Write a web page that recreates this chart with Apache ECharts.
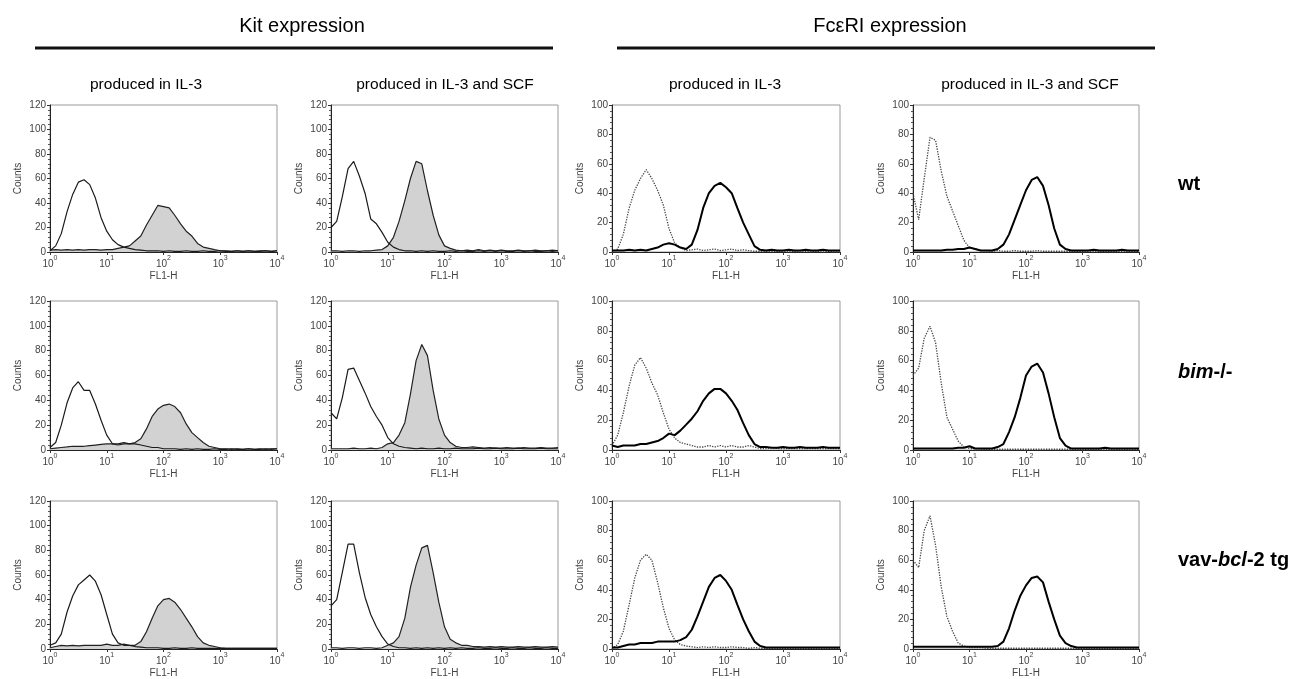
<!DOCTYPE html>
<html>
<head>
<meta charset="utf-8">
<script src="https://cdn.jsdelivr.net/npm/echarts@6/dist/echarts.min.js"></script>
<style>
  html, body { margin: 0; padding: 0; background: #fff; }
  #chart { width: 1296px; height: 679px; }
</style>
</head>
<body>
<div id="chart"></div>
<script>
// ---------------- DATA ----------------
// FL1-H channel positions (fluorescence intensity, log scale)
const channels = [1,1.26,1.58,2,2.51,3.16,3.98,5.01,6.31,7.94,
  10,12.6,15.8,20,25.1,31.6,39.8,50.1,63.1,79.4,
  100,126,158,200,251,316,398,501,631,794,
  1000,1259,1585,1995,2512,3162,3981,5012,6310,7943,
  10000];

const groupTitles = ['Kit expression', 'FcεRI expression'];
const columnTitles = ['produced in IL-3', 'produced in IL-3 and SCF', 'produced in IL-3', 'produced in IL-3 and SCF'];
const rowLabels = ['{b|wt}', '{i|bim}{b|-/-}', '{b|vav-}{i|bcl}{b|-2 tg}'];
const yMaxByColumn = [120, 120, 100, 100];
const xAxisName = 'FL1-H';
const yAxisName = 'Counts';

// Row 1: wt
const kit_il3_wt_neg = [1,5,15,33,47,57,59,55,44,28, 17,10,6,4,3,2,1.5,1,1,1, 0.5,1,0.5,0.5,1,0.5,0.5,1,0.5,0.5, 1,0.5,0.5,1,0.5,1,0.5,0.5,1,0.5, 1];
const kit_il3_wt_pos = [1.5,2,1.5,2,1.5,2,1.5,2,2,1.5, 2,2,3,4,5,9,13,22,30,38, 37,36,30,23,17,13,7,4,3,2, 1,1,0.5,1,0.5,1,0.5,1,1,0.5, 1];
const kit_scf_wt_neg = [20,25,45,68,74,62,48,27,23,16, 8,4,2,1,1,0.5,1,0.5,1,0.5, 0.5,1,0.5,1,0.5,0.5,1,0.5,1,0.5, 1,0.5,0.5,1,0.5,1,0.5,0.5,1,0.5, 1];
const kit_scf_wt_pos = [1,1,0.5,1,1,0.5,1,1,1.5,2, 5,12,25,42,60,74,72,50,30,14, 5,3,1.5,1,1.5,1,2,1,1.5,1, 1.5,1,1,1.5,1,1,1.5,1,1,1.5, 1];
const fce_il3_wt_neg = [0,2,12,30,42,50,56,50,42,32, 16,6,3,1,1.5,2,1,1.5,2,1, 1.5,2,1,1.5,1,0.5,0.5,0.5,0.5,0.5, 0.5,0,0.5,0,0.5,0,0.5,0,0.5,0, 0];
const fce_il3_wt_pos = [1,1,1,1.5,1,1.5,1,2,3,5, 6,5,3,2,5,15,30,40,45,47, 44,40,30,20,12,4,1.5,1,1.5,1, 1,1.5,1,1,1.5,1,1,1.5,1,1, 1];
const fce_scf_wt_neg = [40,22,50,78,76,55,38,28,18,8, 3,2,1,1,0.5,1,0.5,0.5,1,0.5, 0.5,0.5,1,0.5,0.5,0.5,0.5,0.5,0.5,0.5, 0.5,0.5,0.5,0.5,0.5,0.5,0.5,0.5,0.5,0.5, 0.5];
const fce_scf_wt_pos = [1,1,1,1,1,1,1.5,1.5,2,2, 3,2,1,1,1,2,5,12,22,32, 42,49,51,45,32,16,5,2,1,1, 1,1,1.5,1,1,1,1,1.5,1,1, 1];

// Row 2: bim-/-
const kit_il3_bim_neg = [2,6,20,38,50,55,48,48,37,24, 12,5,5,6,5,5,4,3,2,2, 1,1,1,0.5,1,0.5,1,0.5,0.5,1, 0.5,0.5,1,0.5,0.5,1,0.5,0.5,1,0.5, 1];
const kit_il3_bim_pos = [1,1.5,2,2.5,3,3,3,3.5,4,4.5, 5,5,4,5,5,6,9,17,27,33, 36,37,35,30,21,14,10,6,3,2, 1,1,0.5,1,0.5,1,0.5,1,0.5,1, 1];
const kit_scf_bim_neg = [30,25,42,65,66,56,46,35,27,20, 10,5,3,2,1.5,1,1.5,1,1,1.5, 1,1,1.5,1,1,1,1.5,1,1,1.5, 1,1,1,1.5,1,1,1,1.5,1,1, 1];
const kit_scf_bim_pos = [1,1,1,1,1.5,1,1,1.5,1,2, 5,6,12,22,45,72,85,76,48,25, 12,6,3,2,2,2.5,2,1.5,2,1.5, 1.5,2,1.5,1.5,2,1.5,1.5,2,1.5,1.5, 2];
const fce_il3_bim_neg = [3,10,25,43,57,62,55,45,37,25, 14,8,5,4,3,2,2,3,2,3, 2,3,2,2,3,2,1,1,1.5,1, 1,1,1,1,1,1,1,1,1,1, 1];
const fce_il3_bim_pos = [3,2,3,3,3,4,4,5,6,8, 11,10,13,17,21,26,33,38,41,41, 38,33,27,18,10,4,2,2,1.5,1.5, 2,1.5,1.5,2,1.5,1.5,1.5,2,1.5,1.5, 1.5];
const fce_scf_bim_neg = [50,55,75,83,72,45,22,14,6,2, 1,1,0.5,0.5,0.5,0.5,0.5,0.5,0.5,0.5, 0.5,0.5,0.5,0.5,0.5,0.5,0.5,0.5,0.5,0.5, 0.5,0.5,0.5,0.5,0.5,0.5,0.5,0.5,0.5,0.5, 0.5];
const fce_scf_bim_pos = [1,1,1,1,1,1,1,1,1.5,1.5, 2.5,1,1,1,1,2,4,12,22,35, 50,56,58,52,38,22,8,3,1,1, 1,1,1,1,1.5,1,1,1,1,1, 1];

// Row 3: vav-bcl-2 tg
const kit_il3_bcl_neg = [3,5,12,30,43,52,56,60,55,44, 28,12,5,3,3,2,1.5,1,1,1, 0.5,0.5,1,0.5,0.5,1,0.5,0.5,0.5,0.5, 0.5,0.5,0.5,0.5,0.5,0.5,0.5,0.5,0.5,0.5, 0.5];
const kit_il3_bcl_pos = [1,2,3,2.5,3,2.5,3,3,3,3, 4,3,3,4,3,3,6,14,25,35, 40,41,38,32,25,18,10,5,3,2, 1,0.5,0.5,0.5,0.5,0.5,0.5,0.5,0.5,0.5, 0.5];
const kit_scf_bcl_neg = [35,40,62,85,85,62,42,28,18,10, 4,2,1,1,0.5,1,0.5,1,0.5,1, 0.5,1,0.5,1,0.5,0.5,1,0.5,0.5,1, 0.5,0.5,1,0.5,0.5,1,0.5,0.5,1,0.5, 0.5];
const kit_scf_bcl_pos = [1,1,0.5,1,1,0.5,1,1,0.5,1, 3,5,10,25,50,68,82,84,62,38, 18,8,5,3,3,2,2,1.5,2,1.5, 2,1.5,1.5,2,1.5,1.5,2,1.5,1.5,2, 1.5];
const fce_il3_bcl_neg = [0,3,12,30,48,60,64,60,45,28, 14,6,3,2,1.5,1,1.5,1,1.5,1, 1,1.5,1,1,0.5,1,0.5,0.5,0.5,0.5, 0.5,0.5,0.5,0.5,0.5,0.5,0.5,0.5,0.5,0.5, 0.5];
const fce_il3_bcl_pos = [1,1,2,3,3,4,4,4,5,5, 5,5,6,8,13,22,32,42,48,50, 46,40,30,20,12,5,2,1,1,1, 1,1,1,1,1,1,1,1,1,1, 1];
const fce_scf_bcl_neg = [60,55,80,90,70,42,22,12,4,2, 1,1,1,0.5,0.5,0.5,0.5,0.5,0.5,0.5, 0.5,0.5,0.5,0.5,0.5,0.5,0.5,0.5,0.5,0.5, 0.5,0.5,0.5,0.5,0.5,0.5,0.5,0.5,0.5,0.5, 0.5];
const fce_scf_bcl_pos = [1.5,1.5,1.5,1.5,1.5,1.5,1.5,1.5,1.5,1.5, 1.5,1.5,1.5,1.5,1.5,2,5,14,26,36, 43,48,49,45,32,20,9,4,2,1, 1,1,1,1,1,1,1,1,1,1, 1];

const panels = [
  [[kit_il3_wt_neg, kit_il3_wt_pos], [kit_scf_wt_neg, kit_scf_wt_pos], [fce_il3_wt_neg, fce_il3_wt_pos], [fce_scf_wt_neg, fce_scf_wt_pos]],
  [[kit_il3_bim_neg, kit_il3_bim_pos], [kit_scf_bim_neg, kit_scf_bim_pos], [fce_il3_bim_neg, fce_il3_bim_pos], [fce_scf_bim_neg, fce_scf_bim_pos]],
  [[kit_il3_bcl_neg, kit_il3_bcl_pos], [kit_scf_bcl_neg, kit_scf_bcl_pos], [fce_il3_bcl_neg, fce_il3_bcl_pos], [fce_scf_bcl_neg, fce_scf_bcl_pos]]
];

// ---------------- LAYOUT ----------------
const colLeft = [50, 331, 612, 913];
const colWidth = [227, 227, 228, 226];
const rowTop = [105, 301, 501];
const rowHeight = [147, 149, 148];
const FONT = '"Liberation Sans", Arial, Helvetica, sans-serif';

const grids = [], xAxes = [], yAxes = [], series = [];
const pairs = arr => channels.map((c, i) => [c, arr[i]]);

let k = 0;
for (let r = 0; r < 3; r++) {
  for (let c = 0; c < 4; c++) {
    grids.push({
      left: colLeft[c], top: rowTop[r], width: colWidth[c], height: rowHeight[r],
      show: true, borderColor: '#9a9a9a', borderWidth: 1, backgroundColor: '#fff'
    });
    xAxes.push({
      type: 'log', logBase: 10, min: 1, max: 10000, splitNumber: 4, gridIndex: k,
      name: xAxisName, nameLocation: 'middle', nameGap: 19,
      nameTextStyle: { fontSize: 10, color: '#444', fontFamily: FONT },
      axisLine: { show: true, onZero: false, lineStyle: { color: '#222', width: 1 } },
      axisTick: { show: true, length: 3, lineStyle: { color: '#333' } },
      splitLine: { show: false },
      axisLabel: {
        margin: 3, showMinLabel: true, showMaxLabel: true,
        formatter: v => '{b|10}{s|' + Math.round(Math.log10(v)) + '}',
        rich: {
          b: { fontSize: 10, color: '#444', fontFamily: FONT, verticalAlign: 'bottom', lineHeight: 14 },
          s: { fontSize: 7, color: '#444', fontFamily: FONT, verticalAlign: 'top', lineHeight: 14 }
        }
      }
    });
    yAxes.push({
      type: 'value', min: 0, max: yMaxByColumn[c], interval: 20, gridIndex: k,
      name: yAxisName, nameLocation: 'middle', nameGap: 27, nameRotate: 90,
      nameTextStyle: { fontSize: 10, color: '#444', fontFamily: FONT },
      axisLine: { show: true, lineStyle: { color: '#222', width: 1 } },
      axisTick: { show: true, length: 3, lineStyle: { color: '#333' } },
      minorTick: { show: true, splitNumber: 5, length: 2, lineStyle: { color: '#555' } },
      splitLine: { show: false },
      axisLabel: { fontSize: 10, color: '#444', fontFamily: FONT, margin: 4 }
    });
    const [neg, pos] = panels[r][c];
    if (c < 2) {
      series.push({
        type: 'line', xAxisIndex: k, yAxisIndex: k, data: pairs(pos), showSymbol: false,
        lineStyle: { color: '#222', width: 1.2 }, areaStyle: { color: '#d2d2d2', opacity: 1 },
        z: 2, silent: true
      });
      series.push({
        type: 'line', xAxisIndex: k, yAxisIndex: k, data: pairs(neg), showSymbol: false,
        lineStyle: { color: '#1a1a1a', width: 1.2 }, z: 3, silent: true
      });
    } else {
      series.push({
        type: 'line', xAxisIndex: k, yAxisIndex: k, data: pairs(neg), showSymbol: false,
        lineStyle: { color: '#444', width: 1.3, type: 'dotted' }, z: 2, silent: true
      });
      series.push({
        type: 'line', xAxisIndex: k, yAxisIndex: k, data: pairs(pos), showSymbol: false,
        lineStyle: { color: '#000', width: 2 }, z: 3, silent: true
      });
    }
    k++;
  }
}

const titles = [];
const groupCenters = [297, 885];
groupTitles.forEach((t, i) => titles.push({
  text: t, left: groupCenters[i], top: 11, textAlign: 'center',
  textStyle: { fontSize: 20, fontWeight: 'normal', color: '#000', fontFamily: FONT }
}));
const colCenters = [141, 440, 720, 1025];
columnTitles.forEach((t, i) => titles.push({
  text: t, left: colCenters[i], top: 72, textAlign: 'center',
  textStyle: { fontSize: 15.5, fontWeight: 'normal', color: '#000', fontFamily: FONT }
}));
const rowLabelTops = [169, 357, 545];
rowLabels.forEach((t, i) => titles.push({
  text: t, left: 1173, top: rowLabelTops[i],
  textStyle: {
    rich: {
      b: { fontSize: 20, fontWeight: 'bold', color: '#000', fontFamily: FONT },
      i: { fontSize: 20, fontWeight: 'bold', fontStyle: 'italic', color: '#000', fontFamily: FONT }
    }
  }
}));

const chart = echarts.init(document.getElementById('chart'), null, { renderer: 'canvas' });
chart.setOption({
  animation: false,
  backgroundColor: '#fff',
  title: titles,
  graphic: [
    { type: 'line', shape: { x1: 35, y1: 48, x2: 553, y2: 48 }, style: { stroke: '#111', lineWidth: 3 } },
    { type: 'line', shape: { x1: 617, y1: 48, x2: 1155, y2: 48 }, style: { stroke: '#111', lineWidth: 3 } }
  ],
  grid: grids,
  xAxis: xAxes,
  yAxis: yAxes,
  series: series
});
</script>
</body>
</html>
